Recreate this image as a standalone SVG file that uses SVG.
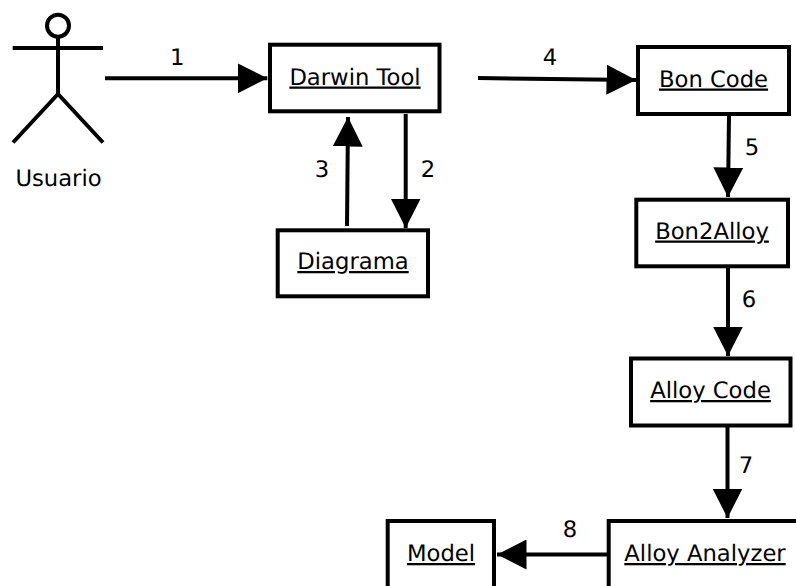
<svg xmlns="http://www.w3.org/2000/svg" width="796" height="586" viewBox="0 0 796 586">
<style>
text{font-family:"DejaVu Sans",sans-serif;font-size:22.7px;fill:#000;text-anchor:middle;text-rendering:geometricPrecision}
.b{fill:#fff;stroke:#000;stroke-width:4}
.c{fill:none;stroke:#000;stroke-width:4}
.u{text-decoration:underline}
</style>
<defs><marker id="a" markerUnits="userSpaceOnUse" markerWidth="30" markerHeight="30" refX="29.5" refY="15" orient="auto"><path d="M0 0L29.5 15L0 30Z" fill="#000"/></marker></defs>
<rect width="796" height="586" fill="#fff"/>
<g id="usuario"><circle cx="58" cy="25.700" r="11" class="c"/><path d="M58 37V94M12.700 48H103M58 94L13 142.500M58 94L103 142.500" class="c"/><text x="58.500" y="186">Usuario</text></g>
<g id="connectors">
<path d="M105 78.300H267.300" class="c" marker-end="url(#a)"/>
<path d="M478 78L636 80" class="c" marker-end="url(#a)"/>
<path d="M405.700 114V228" class="c" marker-end="url(#a)"/>
<path d="M347 226L348 117" class="c" marker-end="url(#a)"/>
<path d="M729 115L728 197" class="c" marker-end="url(#a)"/>
<path d="M728 268V356" class="c" marker-end="url(#a)"/>
<path d="M727.500 427V518" class="c" marker-end="url(#a)"/>
<path d="M607 554.500H497" class="c" marker-end="url(#a)"/>
</g>
<g id="darwin"><rect x="270" y="44.700" width="169.500" height="66.600" class="b"/><text x="355" y="84.500" class="u">Darwin Tool</text></g>
<g id="boncode"><rect x="638" y="47" width="151" height="67" class="b"/><text x="713.500" y="86.500" class="u">Bon Code</text></g>
<g id="diagrama"><rect x="277.700" y="230.300" width="150.300" height="66" class="b"/><text x="353" y="269" class="u">Diagrama</text></g>
<g id="bon2alloy"><rect x="636.300" y="199.700" width="151.700" height="66.600" class="b"/><text x="712" y="238.500" class="u">Bon2Alloy</text></g>
<g id="alloycode"><rect x="631" y="358.500" width="159.500" height="67" class="b"/><text x="710.500" y="398" class="u">Alloy Code</text></g>
<g id="analyzer"><path d="M796 521H608.700V586" class="b"/><text x="705" y="561" class="u">Alloy Analyzer</text></g>
<g id="model"><path d="M387.700 586V521H494V586" class="b"/><text x="441" y="561" class="u">Model</text></g>
<g id="labels">
<text x="177.300" y="65">1</text><text x="428" y="177">2</text><text x="322" y="177">3</text><text x="550" y="65">4</text><text x="752" y="155">5</text><text x="749" y="307">6</text><text x="746" y="473">7</text><text x="570" y="537">8</text>
</g>
</svg>
